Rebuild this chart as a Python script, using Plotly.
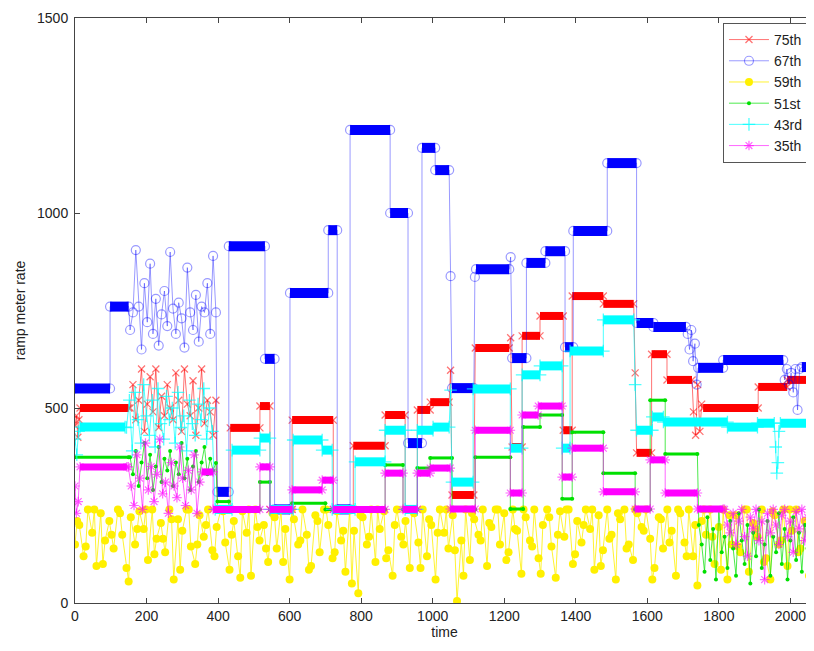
import plotly.graph_objects as go

# ---------------- data ----------------
NAMES = ["75th", "67th", "59th", "51st", "43rd", "35th"]
COLORS = ["#FF0000", "#0000FF", "#FFF000", "#00E000", "#00FFFF", "#FF00FF"]
X_TICKS = [0, 200, 400, 600, 800, 1000, 1200, 1400, 1600, 1800, 2000]
Y_TICKS = [0, 500, 1000, 1500]

# 75th (red): plateaus
R75_START = [14, 398, 434, 517, 545, 607, 722, 778, 867, 923, 957, 993, 1054, 1119, 1222, 1250, 1300, 1365, 1390, 1477, 1570, 1612, 1655, 1756, 1910, 1991]
R75_END = [150, 434, 517, 545, 607, 722, 778, 867, 923, 957, 993, 1046, 1115, 1214, 1250, 1300, 1365, 1390, 1477, 1562, 1612, 1655, 1725, 1910, 1991, 2067]
R75_VAL = [500, 240, 449, 505, 240, 469, 240, 403, 482, 240, 495, 515, 277, 654, 400, 685, 736, 443, 787, 767, 385, 638, 572, 500, 554, 572]
R75_EARLY_T0 = 154
R75_EARLY = [500, 560, 470, 520, 600, 440, 510, 580, 490, 600, 450, 530, 480, 560, 500, 470,
             590, 520, 440, 600, 510, 480, 570, 430, 500, 600, 460, 520, 490, 430, 520]
R75_EDGE_T = [0, 4, 8, 11, 1050, 1218, 1566, 1729, 1735, 1741, 1747, 1752]
R75_EDGE_V = [455, 480, 425, 470, 597, 680, 590, 490, 430, 560, 440, 510]

# 67th (blue)
B67_START = [0, 98, 398, 430, 531, 558, 601, 708, 733, 769, 881, 931, 970, 1007, 1054, 1121, 1222, 1262, 1315, 1370, 1393, 1488, 1570, 1617, 1742, 1812, 2032]
B67_END = [98, 150, 430, 531, 558, 601, 708, 733, 769, 881, 931, 970, 1007, 1046, 1115, 1214, 1262, 1315, 1370, 1393, 1488, 1570, 1617, 1708, 1812, 1980, 2067]
B67_VAL = [550, 760, 285, 915, 626, 240, 795, 956, 240, 1213, 1000, 410, 1167, 1110, 551, 856, 628, 872, 902, 656, 954, 1128, 718, 708, 603, 623, 605]
B67_EARLY_T0 = 154
B67_EARLY = [700, 745, 905, 760, 650, 820, 720, 870, 690, 780, 660, 740, 800, 710, 900, 755,
             690, 770, 730, 655, 860, 745, 700, 790, 670, 760, 745, 820, 690, 890, 745]
B67_EDGE_T = [1050, 1118, 1218, 1713, 1718, 1723, 1728, 1733, 1738, 1984, 1990, 1996, 2002, 2008, 2014, 2020, 2026]
B67_EDGE_V = [838, 836, 887, 690, 650, 700, 620, 665, 560, 572, 600, 560, 590, 540, 600, 495, 600]

# 59th (yellow): noisy samples every 12 time units from t=0, plus extra samples every 24 from t=6
Y59_T0 = 0
Y59 = [150, 200, 120, 240, 180, 95, 230, 160, 210, 140, 240, 175, 90, 220, 150, 235, 190, 110, 240, 165,
       205, 130, 240, 60, 215, 185, 240, 145, 100, 225, 170, 240, 135, 195,
       240, 155, 85, 210, 120, 235, 180, 70, 240, 160, 200, 105, 230, 140, 240, 190, 60, 215, 150, 240,
       175, 95, 225, 130, 240, 200, 115, 235, 160, 80, 240, 185, 25,
       220, 150, 240, 105, 190, 235, 135, 70, 240, 170, 210, 90, 230, 155, 240, 120, 200, 60, 240, 180,
       140, 225, 5, 160, 240, 110, 215, 175, 240, 95, 195, 240, 150,
       230, 130, 240, 185, 75, 220, 160, 240, 115, 200, 240, 145, 65, 235, 170, 240, 100, 210, 155, 240,
       190, 85, 225, 135, 240, 175, 60, 215, 240, 150, 110, 230, 195,
       240, 165, 90, 220, 140, 240, 185, 70, 230, 155, 240, 120, 45, 210, 175, 240, 100, 195, 240, 60,
       150, 225, 130, 240, 80, 205, 170, 240, 115, 60, 225, 150, 240, 95, 185, 240, 140, 210, 70, 200]
Y59_B_T0 = 6
Y59_B = [210, 145, 240, 100, 175, 230, 55, 190, 240, 125, 165, 215, 85, 240, 150, 200, 120, 235, 175, 65,
         240, 195, 140, 220, 105, 240, 160, 85, 210, 240, 130, 185, 50, 225, 170, 240, 115, 200, 150, 240,
         90, 215, 180, 240, 135, 70, 230, 160, 205, 240, 110, 190, 240, 145, 75, 220, 175, 240, 125, 200,
         240, 95, 165, 230, 140, 240, 185, 60, 215, 155, 240, 120, 200, 240, 170, 85, 225, 145, 240, 190,
         105, 235, 160, 240, 130, 210]

# 51st (green)
G51_START = [0, 398, 430, 517, 545, 607, 700, 867, 917, 957, 993, 1054, 1119, 1217, 1253, 1300, 1362, 1390, 1477, 1566, 1608, 1650]
G51_END = [150, 430, 517, 545, 607, 700, 867, 917, 957, 993, 1054, 1119, 1217, 1253, 1300, 1362, 1390, 1477, 1566, 1608, 1650, 1740]
G51_VAL = [374, 260, 240, 310, 240, 256, 240, 354, 240, 346, 372, 240, 374, 241, 451, 482, 267, 438, 333, 240, 520, 382]
G51_EARLY_T0 = 154
G51_EARLY = [374, 330, 390, 300, 360, 410, 320, 380, 290, 350, 400, 310, 370, 340, 390, 300,
             360, 330, 410, 320, 370, 290, 350, 390, 310, 360, 400, 330, 370, 340, 359]
G51_LATE_T0 = 1744
G51_LATE = [200, 150, 80, 220, 110, 190, 60, 240, 130, 170, 90, 210, 140, 70, 230, 160, 100, 200, 50, 180,
            120, 240, 90, 150, 210, 70, 170, 130, 230, 100, 190, 60, 160, 220, 110, 180, 80, 200, 140, 240, 120]

# 43rd (cyan)
C43_START = [14, 392, 439, 517, 545, 610, 691, 719, 783, 867, 923, 957, 1001, 1054, 1113, 1217, 1250, 1300, 1362, 1384, 1477, 1570, 1614, 1645, 1824, 1908, 1972]
C43_END = [140, 439, 517, 545, 610, 691, 719, 783, 867, 923, 957, 1001, 1046, 1113, 1217, 1250, 1300, 1362, 1384, 1477, 1562, 1614, 1645, 1824, 1908, 1955, 2067]
C43_VAL = [451, 240, 392, 423, 240, 418, 392, 240, 362, 443, 240, 443, 451, 310, 549, 397, 585, 608, 397, 646, 726, 443, 477, 464, 451, 461, 461]
C43_EARLY_T0 = 144
C43_EARLY = [450, 520, 390, 540, 470, 410, 560, 480, 430, 520, 400, 550, 460, 420, 530, 470,
             500, 410, 540, 450, 480, 390, 520, 460, 430, 510, 470, 550, 420, 500, 440]
C43_EDGE_T = [0, 5, 10, 1050, 1566, 1959, 1962, 1965, 1968]
C43_EDGE_V = [420, 380, 440, 546, 560, 400, 333, 360, 440]

# 35th (magenta)
M35_START = [14, 355, 386, 517, 545, 607, 691, 722, 867, 917, 957, 993, 1049, 1119, 1217, 1250, 1295, 1362, 1390, 1477, 1566, 1608, 1650, 1740]
M35_END = [145, 386, 517, 545, 607, 691, 722, 867, 917, 957, 993, 1049, 1119, 1217, 1250, 1295, 1362, 1390, 1477, 1566, 1608, 1650, 1740, 1812]
M35_VAL = [349, 336, 240, 349, 240, 290, 315, 240, 333, 240, 333, 346, 241, 443, 282, 482, 505, 323, 397, 285, 241, 367, 282, 241]
M35_EARLY_T0 = 149
M35_EARLY = [349, 300, 250, 380, 320, 240, 410, 290, 350, 260, 330, 420, 280, 310, 230, 360,
             300, 270, 400, 320, 250, 340, 290, 380, 230, 310]
M35_LATE_T0 = 1816
M35_LATE = [240, 200, 180, 230, 150, 210, 240, 170, 120, 220, 190, 240, 160, 210, 60, 230,
            180, 240, 200, 150, 225, 240, 170, 210, 130, 235, 190, 240, 160, 220, 200, 240]
M35_EDGE_T = [0, 4, 9]
M35_EDGE_V = [300, 230, 260]


# ---------------- helpers ----------------
def clock(t0, step, vals):
    return [t0 + step * i for i in range(len(vals))]


def build(starts, ends, vals, noise_chunks):
    pts = []
    for a, b, v in zip(starts, ends, vals):
        pts.append((a, v))
        pts.append((b, v))
    for ts, vs in noise_chunks:
        pts += list(zip(ts, vs))
    pts.sort(key=lambda p: p[0])
    return [p[0] for p in pts], [p[1] for p in pts]


def bars(starts, ends, vals):
    bx, by = [], []
    for a, b, v in zip(starts, ends, vals):
        bx += [a, b, None]
        by += [v, v, None]
    return bx, by


def rgba(hexcol, a):
    h = hexcol.lstrip("#")
    r, g, b = int(h[0:2], 16), int(h[2:4], 16), int(h[4:6], 16)
    return f"rgba({r},{g},{b},{a})"


series = [
    dict(name=NAMES[0], color=COLORS[0], steps=(R75_START, R75_END, R75_VAL),
         noise=[(clock(R75_EARLY_T0, 8, R75_EARLY), R75_EARLY), (R75_EDGE_T, R75_EDGE_V)],
         marker=dict(symbol="x-thin-open", size=7, line=dict(width=1.3, color=COLORS[0])), bar=8, alpha=0.55),
    dict(name=NAMES[1], color=COLORS[1], steps=(B67_START, B67_END, B67_VAL),
         noise=[(clock(B67_EARLY_T0, 8, B67_EARLY), B67_EARLY), (B67_EDGE_T, B67_EDGE_V)],
         marker=dict(symbol="circle-open", size=9, line=dict(width=1.2, color=COLORS[1])), bar=10, alpha=0.4),
    dict(name=NAMES[2], color=COLORS[2], steps=([], [], []),
         noise=[(clock(Y59_T0, 12, Y59), Y59), (clock(Y59_B_T0, 24, Y59_B), Y59_B)],
         marker=dict(symbol="circle", size=8, color=COLORS[2]), bar=0, alpha=0.8),
    dict(name=NAMES[3], color=COLORS[3], steps=(G51_START, G51_END, G51_VAL),
         noise=[(clock(G51_EARLY_T0, 8, G51_EARLY), G51_EARLY), (clock(G51_LATE_T0, 8, G51_LATE), G51_LATE)],
         marker=dict(symbol="circle", size=4, color=COLORS[3]), bar=3, alpha=0.7),
    dict(name=NAMES[4], color=COLORS[4], steps=(C43_START, C43_END, C43_VAL),
         noise=[(clock(C43_EARLY_T0, 8, C43_EARLY), C43_EARLY), (C43_EDGE_T, C43_EDGE_V)],
         marker=dict(symbol="cross-thin-open", size=9, line=dict(width=1.3, color=COLORS[4])), bar=9, alpha=0.7),
    dict(name=NAMES[5], color=COLORS[5], steps=(M35_START, M35_END, M35_VAL),
         noise=[(clock(M35_EARLY_T0, 8, M35_EARLY), M35_EARLY), (clock(M35_LATE_T0, 8, M35_LATE), M35_LATE),
                (M35_EDGE_T, M35_EDGE_V)],
         marker=dict(symbol="asterisk-open", size=8, line=dict(width=1.2, color=COLORS[5])), bar=7, alpha=0.6),
]

fig = go.Figure()
for s in series:
    st, en, va = s["steps"]
    if st:
        bx, by = bars(st, en, va)
        fig.add_trace(go.Scatter(x=bx, y=by, mode="lines", showlegend=False, hoverinfo="skip",
                                 line=dict(color=s["color"], width=s["bar"]), connectgaps=False))
    xs, ys = build(st, en, va, s["noise"])
    fig.add_trace(go.Scatter(x=xs, y=ys, mode="lines+markers", name=s["name"],
                             line=dict(color=rgba(s["color"], s["alpha"]), width=1),
                             marker=s["marker"]))

FONT = "Liberation Sans, Arial, sans-serif"
axis_common = dict(showgrid=False, zeroline=False, showline=True, linecolor="#444", linewidth=1,
                   ticks="inside", ticklen=5, tickcolor="#444", automargin=False,
                   tickfont=dict(family=FONT, size=14, color="#222"))

fig.update_layout(
    width=806, height=635,
    margin=dict(l=67, r=0, t=10, b=40),
    paper_bgcolor="white", plot_bgcolor="white",
    font=dict(family=FONT, size=14, color="#222"),
    legend=dict(x=0.9932, y=0.9915, xanchor="right", yanchor="top", bgcolor="white",
                bordercolor="#555", borderwidth=1, font=dict(family=FONT, size=14, color="#222"),
                tracegroupgap=0, itemwidth=40),
    xaxis=dict(range=[0, 2066], tickvals=X_TICKS, mirror="ticks",
               title=dict(text="time", font=dict(family=FONT, size=14), standoff=3), **axis_common),
    yaxis=dict(range=[0, 1500], tickvals=Y_TICKS, mirror=False, ticklabelstandoff=3,
               title=dict(text="ramp meter rate", font=dict(family=FONT, size=14), standoff=8), **axis_common),
)

fig.write_html("out.html")
